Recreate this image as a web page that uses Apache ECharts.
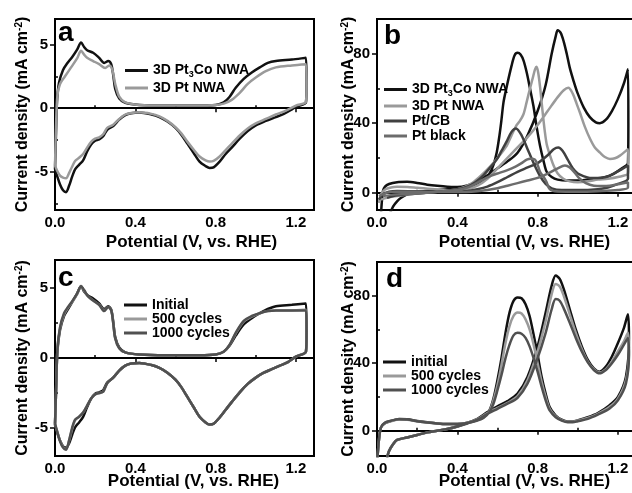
<!DOCTYPE html>
<html>
<head>
<meta charset="utf-8">
<script src="https://cdn.jsdelivr.net/npm/echarts@6/dist/echarts.min.js"></script>
<style>
html, body { margin: 0; padding: 0; background: #fff; }
#main { width: 632px; height: 493px; }
</style>
</head>
<body>
<div id="main"></div>
<script>
// a: CV of the two nanowire arrays  [potential V, current mA/cm2]
var pt3coA = [[0.0,-4.8],[0.005,-2],[0.01,0.5],[0.02,2.0],[0.04,3.0],[0.06,3.5],[0.085,4.0],[0.11,4.6],[0.13,5.15],[0.145,4.8],[0.16,4.55],[0.19,4.35],[0.22,3.95],[0.245,3.55],[0.265,3.7],[0.28,3.45],[0.29,2.6],[0.3,1.5],[0.32,0.75],[0.35,0.42],[0.42,0.25],[0.55,0.2],[0.72,0.2],[0.8,0.25],[0.84,0.45],[0.87,0.9],[0.9,1.6],[0.94,2.3],[0.98,2.8],[1.02,3.2],[1.06,3.55],[1.1,3.7],[1.18,3.82],[1.25,3.95],[1.253,2.0],[1.25,0.45],
  [1.2,0.1],[1.18,-0.1],[1.14,-0.45],[1.1,-0.7],[1.05,-1.0],[1.0,-1.35],[0.96,-1.8],[0.92,-2.4],[0.88,-3.1],[0.85,-3.6],[0.82,-4.2],[0.79,-4.65],[0.77,-4.7],[0.75,-4.55],[0.72,-4.2],[0.69,-3.5],[0.66,-2.8],[0.63,-2.1],[0.6,-1.55],[0.56,-1.05],[0.52,-0.7],[0.48,-0.5],[0.42,-0.35],[0.38,-0.4],[0.35,-0.55],[0.32,-0.9],[0.29,-1.4],[0.26,-1.7],[0.24,-2.2],[0.22,-2.45],[0.2,-2.55],[0.18,-2.85],[0.16,-3.4],[0.14,-4.1],[0.12,-4.45],[0.1,-4.8],[0.085,-5.4],[0.07,-6.1],[0.055,-6.6],[0.04,-6.45],[0.025,-6.0],[0.01,-5.3],[0.0,-4.8]];
var ptA = [[0.0,-4.5],[0.005,-1.5],[0.012,1.0],[0.025,1.9],[0.05,2.5],[0.08,3.2],[0.11,3.9],[0.13,4.5],[0.145,4.2],[0.16,3.95],[0.19,3.7],[0.22,3.45],[0.25,3.15],[0.27,3.35],[0.285,3.05],[0.3,1.9],[0.32,0.9],[0.35,0.45],[0.42,0.25],[0.55,0.2],[0.72,0.2],[0.8,0.25],[0.84,0.35],[0.88,0.65],[0.92,1.2],[0.96,1.9],[1.0,2.4],[1.05,2.9],[1.1,3.2],[1.18,3.35],[1.25,3.45],[1.253,1.8],[1.25,0.5],
  [1.2,0.2],[1.15,-0.2],[1.1,-0.5],[1.05,-0.85],[1.0,-1.2],[0.96,-1.6],[0.92,-2.15],[0.88,-2.8],[0.85,-3.3],[0.82,-3.8],[0.79,-4.15],[0.77,-4.2],[0.75,-4.1],[0.72,-3.8],[0.69,-3.25],[0.66,-2.65],[0.63,-2.0],[0.6,-1.5],[0.56,-1.0],[0.52,-0.65],[0.48,-0.45],[0.42,-0.33],[0.38,-0.38],[0.35,-0.5],[0.32,-0.85],[0.29,-1.3],[0.26,-1.55],[0.24,-2.05],[0.22,-2.3],[0.2,-2.4],[0.18,-2.65],[0.16,-3.1],[0.14,-3.6],[0.12,-3.9],[0.1,-4.15],[0.085,-4.6],[0.07,-5.1],[0.055,-5.5],[0.04,-5.45],[0.025,-5.3],[0.01,-4.9],[0.0,-4.5]];

// b: methanol oxidation, four catalysts
var pt3coB = [[0.02,-12],[0.025,-4],[0.03,1],[0.04,3.5],[0.06,5],[0.1,6],[0.15,6.2],[0.2,5.6],[0.25,4.6],[0.3,3.9],[0.35,3.4],[0.4,3.3],[0.45,4.2],[0.5,6.5],[0.55,10],[0.6,14],[0.65,18],[0.7,23],[0.75,33],[0.8,47],[0.84,62],[0.87,80],[0.89,90],[0.9,93.5],[0.915,92],[0.93,87],[0.945,80],[0.96,72],[0.98,64],[1.0,57],[1.03,49],[1.06,43.5],[1.09,40.5],[1.11,40],[1.14,42],[1.17,47],[1.2,54],[1.23,63],[1.25,71],[1.252,40],[1.25,17],
  [1.22,14],[1.18,11],[1.14,9],[1.1,8],[1.05,7.5],[1.0,7],[0.95,7],[0.9,7.5],[0.87,9],[0.845,12],[0.83,18],[0.812,27],[0.795,38],[0.779,50],[0.762,60],[0.746,69],[0.73,76],[0.715,79.5],[0.7,80.5],[0.685,79],[0.67,73],[0.646,61],[0.63,52],[0.62,42],[0.61,33],[0.596,23],[0.58,16],[0.563,11.5],[0.54,8],[0.513,6],[0.46,3.5],[0.41,2.8],[0.35,2],[0.3,1.5],[0.25,1],[0.2,0.3],[0.15,-1],[0.12,-3],[0.1,-5],[0.08,-8],[0.065,-12]];
var ptB = [[0.01,-6],[0.02,-1],[0.04,1.8],[0.07,3],[0.1,3.4],[0.15,3.3],[0.2,2.8],[0.3,1.8],[0.4,1.3],[0.45,2],[0.5,4],[0.55,8],[0.6,14],[0.65,20],[0.7,26],[0.75,32],[0.8,39],[0.85,47],[0.9,55],[0.93,59],[0.953,60.4],[0.975,57],[0.995,51],[1.011,46],[1.035,38],[1.061,31],[1.085,26],[1.111,23],[1.135,20.5],[1.16,19.4],[1.185,19.8],[1.21,21.3],[1.25,25],[1.252,17],[1.25,11],
  [1.2,9],[1.15,8],[1.1,7.5],[1.05,6.5],[1.0,6],[0.96,6.5],[0.928,8],[0.9,11],[0.878,16],[0.86,22],[0.845,28],[0.835,36],[0.828,43],[0.82,52],[0.812,61],[0.803,69],[0.795,72.5],[0.787,71],[0.778,67],[0.762,60],[0.745,52],[0.729,45],[0.71,41],[0.696,39],[0.67,33],[0.646,27],[0.6,20],[0.563,15],[0.52,10],[0.48,6],[0.44,3.5],[0.4,2],[0.3,0.5],[0.2,-0.5],[0.1,-2],[0.05,-3],[0.02,-4]];
var ptcbB = [[0.01,-4],[0.03,-1],[0.06,0.5],[0.1,1],[0.2,0.8],[0.3,0.5],[0.4,0.5],[0.45,1],[0.5,2],[0.55,3.5],[0.6,6],[0.65,9],[0.7,12],[0.75,14.5],[0.8,17],[0.85,21.5],[0.88,25],[0.903,26],[0.925,24],[0.95,19],[0.975,14],[1.0,11],[1.028,9.5],[1.06,8.5],[1.1,8.5],[1.14,9],[1.18,11],[1.22,13.5],[1.25,15.6],[1.25,8],
  [1.2,5],[1.15,3],[1.1,2],[1.0,1.5],[0.92,1.5],[0.87,2.5],[0.84,5],[0.81,10],[0.78,17],[0.75,25],[0.72,33],[0.692,37],[0.67,35],[0.646,29.5],[0.62,24],[0.596,19],[0.56,14],[0.53,10],[0.49,6],[0.45,3.5],[0.4,2],[0.3,0.5],[0.2,-0.5],[0.1,-1.5],[0.05,-3]];
var ptblackB = [[0.01,-2],[0.05,0],[0.1,0.5],[0.2,0.5],[0.3,0.3],[0.4,0.3],[0.5,0.8],[0.55,1.5],[0.6,2.5],[0.65,4],[0.7,5.5],[0.75,7],[0.8,8.5],[0.85,11],[0.9,14],[0.936,15.6],[0.96,14.5],[0.985,11.5],[1.01,8],[1.04,5.5],[1.08,4],[1.12,3.8],[1.16,4],[1.2,4.8],[1.25,6],[1.25,3],
  [1.2,1.5],[1.1,0.8],[1.0,0.5],[0.9,0.6],[0.86,2],[0.845,6],[0.83,9],[0.812,12],[0.8,16],[0.787,19],[0.765,19.5],[0.746,19],[0.72,17],[0.69,15],[0.65,13],[0.6,11],[0.563,9.5],[0.52,7],[0.48,4.5],[0.44,2.5],[0.4,1.5],[0.3,0.5],[0.2,-0.5],[0.1,-1],[0.03,-2]];

// c: CV stability
var initialC = [[0.0,-4.8],[0.006,-2],[0.012,0.5],[0.025,2.0],[0.045,3.0],[0.065,3.5],[0.09,4.1],[0.11,4.6],[0.13,5.15],[0.145,4.75],[0.165,4.45],[0.19,4.25],[0.22,3.9],[0.245,3.5],[0.265,3.7],[0.28,3.45],[0.29,2.6],[0.3,1.5],[0.32,0.75],[0.35,0.4],[0.42,0.25],[0.55,0.2],[0.72,0.2],[0.8,0.25],[0.84,0.45],[0.87,0.9],[0.9,1.6],[0.94,2.4],[0.98,2.85],[1.02,3.2],[1.06,3.5],[1.1,3.7],[1.18,3.8],[1.25,3.9],[1.253,2.0],[1.25,0.45],
  [1.2,0.1],[1.16,-0.3],[1.12,-0.55],[1.08,-0.8],[1.04,-1.05],[1.0,-1.4],[0.96,-1.85],[0.92,-2.45],[0.88,-3.15],[0.85,-3.7],[0.82,-4.25],[0.79,-4.7],[0.77,-4.75],[0.75,-4.6],[0.72,-4.2],[0.69,-3.5],[0.66,-2.8],[0.63,-2.1],[0.6,-1.55],[0.56,-1.05],[0.52,-0.7],[0.48,-0.5],[0.42,-0.35],[0.38,-0.4],[0.35,-0.55],[0.32,-0.9],[0.29,-1.4],[0.26,-1.75],[0.24,-2.3],[0.22,-2.45],[0.2,-2.55],[0.18,-2.9],[0.16,-3.5],[0.14,-4.2],[0.12,-4.6],[0.1,-4.95],[0.085,-5.5],[0.07,-6.1],[0.055,-6.4],[0.04,-6.3],[0.025,-5.9],[0.01,-5.3],[0.0,-4.8]];
var cyc500C = [[0.0,-4.7],[0.006,-2],[0.012,0.6],[0.025,2.1],[0.045,3.1],[0.065,3.6],[0.09,4.1],[0.11,4.55],[0.13,5.1],[0.145,4.8],[0.165,4.4],[0.19,4.1],[0.22,3.8],[0.245,3.4],[0.265,3.65],[0.28,3.4],[0.29,2.5],[0.3,1.4],[0.32,0.7],[0.35,0.4],[0.42,0.25],[0.55,0.2],[0.72,0.2],[0.8,0.25],[0.84,0.45],[0.87,0.95],[0.9,1.75],[0.94,2.6],[0.98,2.95],[1.02,3.2],[1.06,3.35],[1.1,3.4],[1.18,3.4],[1.25,3.45],[1.253,1.9],[1.25,0.45],
  [1.2,0.1],[1.16,-0.3],[1.12,-0.55],[1.08,-0.8],[1.04,-1.05],[1.0,-1.4],[0.96,-1.85],[0.92,-2.45],[0.88,-3.15],[0.85,-3.7],[0.82,-4.25],[0.79,-4.7],[0.77,-4.75],[0.75,-4.6],[0.72,-4.2],[0.69,-3.5],[0.66,-2.8],[0.63,-2.1],[0.6,-1.55],[0.56,-1.05],[0.52,-0.7],[0.48,-0.5],[0.42,-0.35],[0.38,-0.4],[0.35,-0.55],[0.32,-0.9],[0.29,-1.4],[0.26,-1.8],[0.24,-2.4],[0.22,-2.5],[0.2,-2.6],[0.18,-2.9],[0.16,-3.4],[0.14,-3.9],[0.12,-4.2],[0.1,-4.45],[0.085,-5.1],[0.07,-5.9],[0.055,-6.5],[0.04,-6.35],[0.025,-5.9],[0.01,-5.2],[0.0,-4.7]];
var cyc1000C = [[0.0,-4.7],[0.006,-2],[0.012,0.6],[0.025,2.2],[0.045,3.2],[0.065,3.65],[0.09,4.15],[0.11,4.6],[0.13,5.1],[0.145,4.85],[0.165,4.4],[0.19,4.1],[0.22,3.8],[0.245,3.35],[0.265,3.65],[0.28,3.4],[0.29,2.5],[0.3,1.4],[0.32,0.7],[0.35,0.4],[0.42,0.25],[0.55,0.2],[0.72,0.2],[0.8,0.25],[0.84,0.45],[0.87,0.95],[0.9,1.8],[0.94,2.65],[0.98,3.0],[1.02,3.2],[1.06,3.35],[1.1,3.4],[1.18,3.4],[1.25,3.4],[1.253,1.9],[1.25,0.45],
  [1.2,0.1],[1.16,-0.3],[1.12,-0.55],[1.08,-0.8],[1.04,-1.05],[1.0,-1.4],[0.96,-1.85],[0.92,-2.45],[0.88,-3.15],[0.85,-3.7],[0.82,-4.25],[0.79,-4.7],[0.77,-4.75],[0.75,-4.6],[0.72,-4.2],[0.69,-3.5],[0.66,-2.8],[0.63,-2.1],[0.6,-1.55],[0.56,-1.05],[0.52,-0.7],[0.48,-0.5],[0.42,-0.35],[0.38,-0.4],[0.35,-0.55],[0.32,-0.9],[0.29,-1.4],[0.26,-1.8],[0.24,-2.4],[0.22,-2.5],[0.2,-2.6],[0.18,-2.9],[0.16,-3.4],[0.14,-3.9],[0.12,-4.2],[0.1,-4.4],[0.085,-5.0],[0.07,-5.9],[0.055,-6.55],[0.04,-6.4],[0.025,-5.95],[0.01,-5.2],[0.0,-4.7]];

// d: methanol oxidation stability
var initialD = [[0.0,-20],[0.01,-5],[0.02,2],[0.04,4.5],[0.07,5.8],[0.11,7],[0.15,6.8],[0.2,5.8],[0.25,5],[0.3,4.3],[0.35,4],[0.4,4],[0.45,4.8],[0.5,7],[0.55,11],[0.6,14.5],[0.65,17.5],[0.7,22],[0.75,32],[0.8,50],[0.84,70],[0.87,86],[0.89,92],[0.91,90],[0.93,84],[0.96,72],[0.99,60],[1.02,50],[1.05,42],[1.08,37],[1.108,35],[1.14,38],[1.17,44],[1.2,52],[1.23,61],[1.25,69],[1.255,55],
  [1.24,32],[1.2,20],[1.157,15],[1.1,10.5],[1.05,8],[1.0,6.2],[0.975,5.5],[0.95,5.5],[0.92,6.5],[0.89,9],[0.86,14],[0.84,22],[0.82,32],[0.8,45],[0.78,57],[0.76,68],[0.74,75],[0.72,78.5],[0.7,79],[0.68,77],[0.66,70],[0.64,58],[0.62,43],[0.6,30],[0.58,19],[0.56,12],[0.53,8],[0.5,6.5],[0.45,4.5],[0.4,2.5],[0.35,1],[0.3,0],[0.25,-1],[0.2,-2.5],[0.15,-4],[0.1,-5.5],[0.08,-8],[0.06,-12],[0.05,-16]];
var cyc500D = [[0.0,-20],[0.01,-5],[0.02,2],[0.04,4.5],[0.07,5.6],[0.11,6.6],[0.15,6.5],[0.2,5.6],[0.25,4.8],[0.3,4.2],[0.35,3.9],[0.4,3.9],[0.45,4.7],[0.5,6.8],[0.55,10.5],[0.6,13.5],[0.65,16.5],[0.7,20.5],[0.75,30],[0.8,47],[0.84,65],[0.87,81],[0.89,87],[0.91,85.5],[0.93,80],[0.96,69],[0.99,58],[1.02,48.5],[1.05,41],[1.08,36.5],[1.108,34.5],[1.14,36.5],[1.17,41],[1.2,47],[1.23,53],[1.25,58],[1.255,47],
  [1.24,30],[1.2,19],[1.157,14],[1.1,10],[1.05,7.5],[1.0,6],[0.975,5.3],[0.95,5.3],[0.92,6.3],[0.89,8.5],[0.86,13],[0.84,20],[0.82,29],[0.8,40],[0.78,51],[0.76,60],[0.74,66],[0.72,69.5],[0.7,70],[0.68,68],[0.66,62],[0.64,52],[0.62,39],[0.6,27],[0.58,18],[0.56,11.5],[0.53,8],[0.5,6.3],[0.45,4.5],[0.4,2.5],[0.35,1],[0.3,0],[0.25,-1],[0.2,-2.5],[0.15,-4],[0.1,-5.5],[0.08,-8],[0.06,-12],[0.05,-16]];
var cyc1000D = [[0.0,-20],[0.01,-5],[0.02,2],[0.04,4.8],[0.07,5.9],[0.11,6.8],[0.15,6.6],[0.2,5.6],[0.25,4.8],[0.3,4.2],[0.35,3.9],[0.4,3.9],[0.45,4.6],[0.5,6.5],[0.55,10],[0.6,13],[0.65,16],[0.7,19.5],[0.75,28],[0.8,43],[0.84,58],[0.87,72],[0.89,78],[0.91,77],[0.93,72.5],[0.96,64],[0.99,55],[1.02,47],[1.05,40.5],[1.08,36],[1.108,34],[1.14,36],[1.17,40],[1.2,45],[1.23,51],[1.25,55],[1.255,45],
  [1.24,28],[1.2,18],[1.157,13],[1.1,9.5],[1.05,7],[1.0,5.6],[0.975,5],[0.95,5],[0.92,6],[0.89,8],[0.86,12],[0.84,18],[0.82,26],[0.8,35],[0.78,43],[0.76,50],[0.74,55],[0.72,57.5],[0.7,58],[0.68,56.5],[0.66,51],[0.64,43],[0.62,33],[0.6,24],[0.58,16],[0.56,11],[0.53,7.5],[0.5,6],[0.45,4.3],[0.4,2.5],[0.35,1],[0.3,0],[0.25,-1],[0.2,-2.5],[0.15,-4],[0.1,-5.5],[0.08,-8],[0.06,-12],[0.05,-16]];

var xTicks = [0, 0.4, 0.8, 1.2];
var xMinor = [0.2, 0.6, 1.0];
var cvTicks = [-5, 0, 5];
var cvMinorA = [-7.5, -2.5, 2.5];
var cvMinorC = [-2.5, 2.5];
var morTicks = [0, 40, 80];
var morMinor = [20, 60];

var FONT = '"Liberation Sans", Arial, sans-serif';
var chart = echarts.init(document.getElementById('main'));

function grid(left, top, right, bottom) {
  return {left: left, top: top, right: right, bottom: bottom, show: true, borderColor: '#000', borderWidth: 2,
    backgroundColor: 'transparent', containLabel: false, outerBoundsMode: 'none'};
}

function xAxes(gi, padLeft, gap) {
  return [{
    type: 'value', gridIndex: gi, min: 0, max: 1.29,
    name: 'Potential (V, vs. RHE)', nameLocation: 'middle', nameGap: gap, nameMoveOverlap: false,
    nameTextStyle: {fontSize: 17, fontWeight: 'bold', color: '#000', fontFamily: FONT, padding: [0, 0, 0, padLeft]},
    axisLine: {show: true, lineStyle: {color: '#000', width: 2}},
    axisTick: {show: true, length: 4, inside: false, customValues: xTicks, lineStyle: {color: '#000', width: 1.5}},
    axisLabel: {customValues: xTicks, margin: 5, fontSize: 15, fontWeight: 'bold', color: '#000', fontFamily: FONT,
      formatter: function (v) { return v.toFixed(1); }},
    splitLine: {show: false}
  }, {
    type: 'value', gridIndex: gi, min: 0, max: 1.29,
    axisLine: {show: false}, axisLabel: {show: false}, splitLine: {show: false},
    axisTick: {show: true, length: 3, customValues: xMinor, lineStyle: {color: '#000', width: 1.5}}
  }];
}

function yAxes(gi, min, max, ticks, minor, gap) {
  return [{
    type: 'value', gridIndex: gi, min: min, max: max,
    name: '{n|Current density (mA cm}{sup|-2}{n|)}', nameLocation: 'middle', nameGap: gap, nameRotate: 90,
    nameMoveOverlap: false,
    nameTextStyle: {fontSize: 16, fontWeight: 'bold', color: '#000', fontFamily: FONT,
      rich: {
        n: {fontSize: 16, fontWeight: 'bold', color: '#000', fontFamily: FONT, lineHeight: 18},
        sup: {fontSize: 10, fontWeight: 'bold', color: '#000', fontFamily: FONT, lineHeight: 10, padding: [0, 0, 8, 0]}
      }},
    axisLine: {show: true, lineStyle: {color: '#000', width: 2}},
    axisTick: {show: true, length: 5, customValues: ticks, lineStyle: {color: '#000', width: 1.5}},
    axisLabel: {customValues: ticks, margin: 7, fontSize: 15, fontWeight: 'bold', color: '#000', fontFamily: FONT},
    splitLine: {show: false}
  }, {
    type: 'value', gridIndex: gi, min: min, max: max,
    axisLine: {show: false}, axisLabel: {show: false}, splitLine: {show: false},
    axisTick: {show: true, length: 3, customValues: minor, lineStyle: {color: '#000', width: 1.5}}
  }];
}

function line(name, data, color, gi) {
  return {
    name: name, type: 'line', data: data, xAxisIndex: gi * 2, yAxisIndex: gi * 2,
    showSymbol: false, symbol: 'none', smooth: 0.3, clip: true,
    lineStyle: {color: color, width: 2.5}, itemStyle: {color: color}
  };
}

function legend(names, left, top, gap) {
  return {
    data: names, orient: 'vertical', left: left, top: top, padding: 0, itemGap: gap,
    icon: 'rect', itemWidth: 23, itemHeight: 3, selectedMode: false,
    formatter: function (name) {
      if (name === '3D Pt3Co NWA') return '{n|3D Pt}{sub|3}{n|Co NWA}';
      return '{n|' + name + '}';
    },
    textStyle: {fontSize: 14, fontWeight: 'bold', color: '#000', fontFamily: FONT,
      rich: {
        n: {fontSize: 14, fontWeight: 'bold', color: '#000', fontFamily: FONT, lineHeight: 18},
        sub: {fontSize: 9, fontWeight: 'bold', color: '#000', fontFamily: FONT, lineHeight: 10, padding: [8, 0, 0, 0]}
      }}
  };
}

function letter(t, left, top) {
  return {type: 'text', left: left, top: top,
    style: {text: t, fontSize: 28, fontWeight: 'bold', fill: '#000', fontFamily: FONT}};
}

var BLACK = '#111111', LIGHT = '#9a9a9a', DARK = '#505050', PTCB = '#404040', PTBLACK = '#6c6c6c';

var option = {
  animation: false,
  backgroundColor: '#fff',
  grid: [grid(55, 19, 318, 283), grid(377, 19, -4, 283), grid(55, 260, 318, 37), grid(377, 262, -4, 37)],
  xAxis: [].concat(xAxes(0, 14, 24), xAxes(1, 36, 24), xAxes(2, 18, 17), xAxes(3, 36, 17)),
  yAxis: [].concat(yAxes(0, -8, 7, cvTicks, cvMinorA, 23), yAxes(1, -10, 100, morTicks, morMinor, 19),
    yAxes(2, -7, 7, cvTicks, cvMinorC, 23), yAxes(3, -15, 100, morTicks, morMinor, 19)),
  legend: [
    legend(['3D Pt3Co NWA', '3D Pt NWA'], 125, 62, 2),
    legend(['3D Pt3Co NWA', '3D Pt NWA', 'Pt/CB', 'Pt black'], 384, 81, 1),
    legend(['Initial', '500 cycles', '1000 cycles'], 124, 298, 0),
    legend(['initial', '500 cycles', '1000 cycles'], 383, 355, 0)
  ],
  graphic: [letter('a', 58, 19), letter('b', 384, 22), letter('c', 58, 264), letter('d', 386, 265)],
  series: [
    line('3D Pt3Co NWA', pt3coA, BLACK, 0),
    line('3D Pt NWA', ptA, LIGHT, 0),
    line('3D Pt3Co NWA', pt3coB, BLACK, 1),
    line('3D Pt NWA', ptB, LIGHT, 1),
    line('Pt/CB', ptcbB, PTCB, 1),
    line('Pt black', ptblackB, PTBLACK, 1),
    line('Initial', initialC, BLACK, 2),
    line('500 cycles', cyc500C, LIGHT, 2),
    line('1000 cycles', cyc1000C, DARK, 2),
    line('initial', initialD, BLACK, 3),
    line('500 cycles', cyc500D, LIGHT, 3),
    line('1000 cycles', cyc1000D, DARK, 3)
  ]
};
option && chart.setOption(option);
</script>
</body>
</html>
